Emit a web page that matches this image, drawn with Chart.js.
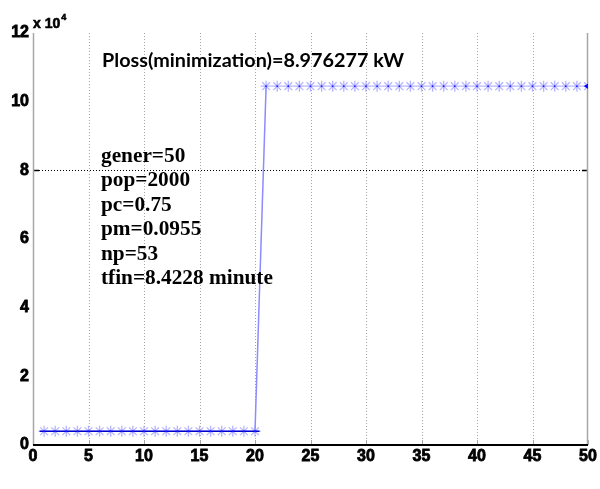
<!DOCTYPE html>
<html>
<head>
<meta charset="utf-8">
<script src="https://cdn.jsdelivr.net/npm/chart.js@4/dist/chart.umd.min.js"></script>
</head>
<body style="margin:0;background:#fff">
<canvas id="c" width="600" height="489"></canvas>
<script>
// ---- data (values in units of 10^4) ----
const generations = [1,2,3,4,5,6,7,8,9,10,11,12,13,14,15,16,17,18,19,20,21,22,23,24,25,26,27,28,29,30,31,32,33,34,35,36,37,38,39,40,41,42,43,44,45,46,47,48,49,50];
const fitness = [0.4,0.4,0.4,0.4,0.4,0.4,0.4,0.4,0.4,0.4,0.4,0.4,0.4,0.4,0.4,0.4,0.4,0.4,0.4,0.4,
  10.45,10.45,10.45,10.45,10.45,10.45,10.45,10.45,10.45,10.45,10.45,10.45,10.45,10.45,10.45,
  10.45,10.45,10.45,10.45,10.45,10.45,10.45,10.45,10.45,10.45,10.45,10.45,10.45,10.45,10.45];
const baselineX = [0.6, 20.4];
const baselineY = [0.4, 0.4];
const bestX = [50];
const bestY = [10.45];
const xTicks = [0,5,10,15,20,25,30,35,40,45,50];
const yTicks = [0,2,4,6,8,10,12];
const titleText = "Ploss(minimization)=8.976277 kW";
const paramLines = ["gener=50","pop=2000","pc=0.75","pm=0.0955","np=53","tfin=8.4228 minute"];
const exponentBase = "x 10";
const exponentPower = "4";

const pts = generations.map((g,i)=>({x:g,y:fitness[i]}));
const basePts = baselineX.map((v,i)=>({x:v,y:baselineY[i]}));
const bestPts = bestX.map((v,i)=>({x:v,y:bestY[i]}));

const decor = {
  id:'decor',
  beforeDatasetsDraw(chart){
    const {ctx, chartArea:a, scales:{x,y}} = chart;
    ctx.save();
    ctx.strokeStyle = '#a6a6a6';
    ctx.lineWidth = 1;
    ctx.setLineDash([1,2]);
    xTicks.forEach(t=>{
      if (t===0 || t===50) return;
      const px = Math.round(x.getPixelForValue(t))+0.5;
      ctx.beginPath(); ctx.moveTo(px,a.top); ctx.lineTo(px,a.bottom); ctx.stroke();
    });
    ctx.strokeStyle = '#000';
    const py8 = Math.round(y.getPixelForValue(8))+0.5;
    ctx.beginPath(); ctx.moveTo(a.left,py8); ctx.lineTo(a.right,py8); ctx.stroke();
    ctx.setLineDash([]);
    ctx.lineWidth = 1.5;
    ctx.beginPath(); ctx.moveTo(a.left,py8); ctx.lineTo(a.left+6,py8); ctx.moveTo(a.right-6,py8); ctx.lineTo(a.right,py8); ctx.stroke();
    ctx.strokeStyle = '#a6a6a6';
    ctx.lineWidth = 1;
    xTicks.forEach(t=>{
      const px = Math.round(x.getPixelForValue(t))+0.5;
      ctx.beginPath(); ctx.moveTo(px,a.bottom); ctx.lineTo(px,a.bottom-5); ctx.stroke();
    });
    ctx.lineWidth = 1.5;
    ctx.beginPath();
    ctx.moveTo(a.left+0.5,a.top); ctx.lineTo(a.left+0.5,a.bottom);
    ctx.moveTo(a.right-0.5,a.top); ctx.lineTo(a.right-0.5,a.bottom);
    ctx.stroke();
    ctx.strokeStyle = '#000';
    ctx.lineWidth = 2;
    ctx.beginPath(); ctx.moveTo(a.left,a.bottom); ctx.lineTo(a.right,a.bottom); ctx.stroke();
    ctx.restore();
  },
  afterDraw(chart){
    const ctx = chart.ctx;
    ctx.save();
    ctx.fillStyle = '#000';
    ctx.strokeStyle = '#000';
    ctx.lineWidth = 0.6;
    ctx.textBaseline = 'alphabetic';
    ctx.textAlign = 'left';
    ctx.font = 'bold 14px Arial';
    ctx.fillText(exponentBase, 33, 28);
    ctx.strokeText(exponentBase, 33, 28);
    const w = ctx.measureText(exponentBase).width;
    ctx.font = 'bold 9px Arial';
    ctx.fillText(exponentPower, 33+w+1, 20);
    ctx.strokeText(exponentPower, 33+w+1, 20);
    ctx.font = 'bold 18px Lato';
    const tw = ctx.measureText(titleText).width;
    const fs = 18*303/tw;
    ctx.font = 'bold '+fs.toFixed(1)+'px Lato';
    ctx.fillText(titleText, 102, 67);
    ctx.font = 'bold 20px "Liberation Serif"';
    const lw = ctx.measureText(paramLines[paramLines.length-1]).width;
    const ps = 20*172/lw;
    ctx.font = 'bold '+ps.toFixed(1)+'px "Liberation Serif"';
    paramLines.forEach((s,i)=>{
      ctx.fillText(s, 101, 162 + i*24.4);
    });
    ctx.restore();
  }
};

new Chart(document.getElementById('c'), {
  type:'scatter',
  data:{
    datasets:[
      {
        data: basePts, showLine:true, borderColor:'#0000d0', borderWidth:1.5,
        pointRadius:0, order:1
      },
      {
        data: pts, showLine:true, borderWidth:1.5,
        borderColor:'#8c8cff',
        segment:{ borderColor: c => (c.p0DataIndex===19 ? '#8c8cff' : 'rgba(0,0,0,0)') },
        pointStyle:'star', pointRadius:5.5, pointBorderWidth:1.3,
        pointBorderColor:'rgba(150,150,255,0.7)', pointBackgroundColor:'rgba(150,150,255,0.7)',
        order:2
      },
      {
        data: pts, showLine:false, pointStyle:'circle', pointRadius:0.9, pointBorderWidth:0,
        pointBackgroundColor:'#1a1aff', order:0
      },
      {
        data: bestPts, showLine:false, pointStyle:'triangle', rotation:-90, pointRadius:3.5,
        pointBackgroundColor:'#0000ff', pointBorderColor:'#0000ff', order:0
      }
    ]
  },
  options:{
    responsive:false,
    animation:false,
    layout:{padding:{top:33,right:12,left:0,bottom:0}},
    plugins:{legend:{display:false},tooltip:{enabled:false}},
    scales:{
      x:{
        type:'linear', min:0, max:50,
        afterBuildTicks: s => { s.ticks = xTicks.map(v=>({value:v})); },
        afterFit: s => { s.height = 44; },
        grid:{display:false, drawTicks:false},
        border:{display:false},
        ticks:{color:'#000', textStrokeColor:'#000', textStrokeWidth:0.8, padding:2,
          font:{family:'Arial', size:16, weight:'bold'}, maxRotation:0, autoSkip:false}
      },
      y:{
        type:'linear', min:0, max:12,
        afterBuildTicks: s => { s.ticks = yTicks.map(v=>({value:v})); },
        afterFit: s => { s.width = 33; },
        grid:{display:false, drawTicks:false},
        border:{display:false},
        ticks:{color:'#000', textStrokeColor:'#000', textStrokeWidth:0.8, padding:4,
          font:{family:'Arial', size:16, weight:'bold'}}
      }
    }
  },
  plugins:[decor]
});
</script>
</body>
</html>
